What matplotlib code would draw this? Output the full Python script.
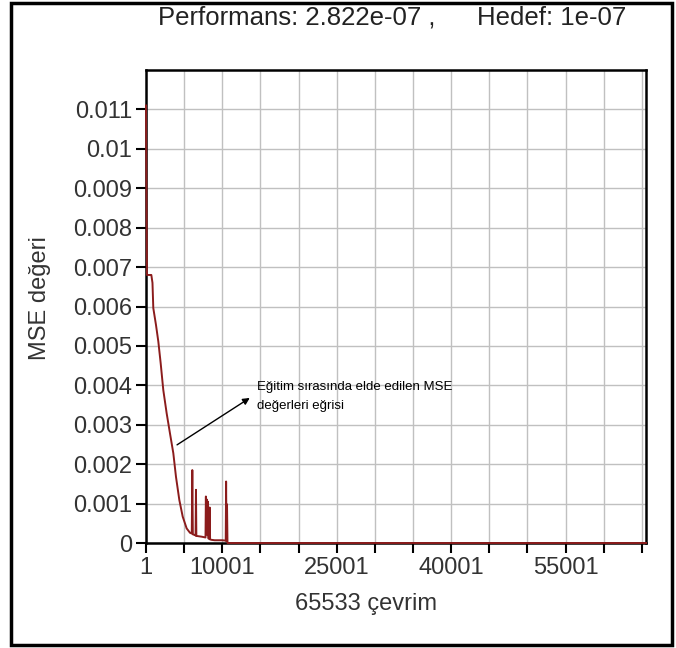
import matplotlib.pyplot as plt
from matplotlib.patches import Rectangle

# Egitim egrisi (MSE)
iterasyon = [1, 120, 700, 850, 957, 1311, 1617, 1925, 2268, 2710, 3145, 3580,
             3930, 4370, 4810, 5330, 5765, 6000, 6070, 6140, 6420, 6500, 6550,
             6600, 7300, 7800, 7850, 7900, 8000, 8050, 8100, 8160, 8300, 8350,
             8400, 8600, 9000, 10000, 10450, 10500, 10550, 10620, 10680, 10740,
             11000, 65533]
mse = [0.0111, 0.0068, 0.0068, 0.0066, 0.00596, 0.00553, 0.00511, 0.00456,
       0.00388, 0.00329, 0.00278, 0.00228, 0.00168, 0.00109, 0.00067, 0.00037,
       0.00026, 0.00024, 0.00185, 0.00022, 0.0002, 0.00019, 0.00135, 0.00018,
       0.00016, 0.00014, 0.00118, 0.0003, 0.0011, 0.0002, 0.00105, 0.00012,
       0.0001, 0.0009, 0.00009, 0.00008, 0.00007, 0.00007, 0.00006, 0.00156,
       0.00005, 0.00098, 0.0, 0.0, 0.0, 0.0]

xtick_vals = [1, 5001, 10001, 15001, 20001, 25001, 30001, 35001, 40001,
              45001, 50001, 55001, 60001, 65001]
xtick_labels = ['1', '', '10001', '', '', '25001', '', '', '40001', '', '',
                '55001', '', '']
ytick_vals = [0, 0.001, 0.002, 0.003, 0.004, 0.005, 0.006, 0.007, 0.008,
              0.009, 0.01, 0.011]

performans = '2.822e-07'
hedef = '1e-07'

plt.rcParams['font.family'] = ['Liberation Sans', 'DejaVu Sans']

fig = plt.figure(figsize=(6.76, 6.48), dpi=100)
ax = fig.add_axes([146 / 676, 105 / 648, 500 / 676, 473 / 648])

ax.plot(iterasyon, mse, color='#8b1c1c', lw=1.4, zorder=3, clip_on=False)

ax.set_xlim(1, 65533)
ax.set_ylim(0, 0.012)
ax.set_xticks(xtick_vals)
ax.set_xticklabels(xtick_labels)
ax.set_yticks(ytick_vals)
ax.set_yticklabels(['%g' % v for v in ytick_vals])
ax.tick_params(direction='out', length=7, width=1.5, labelsize=17, pad=3,
               colors='black')
ax.tick_params(axis='y', labelcolor='#333333')
ax.tick_params(axis='x', labelcolor='#333333')
ax.grid(True, color='#c0c0c0', lw=1)
ax.set_axisbelow(True)
for s in ax.spines.values():
    s.set_linewidth(1.8)
    s.set_color('black')

fig.text(40 / 676, 1 - 298 / 648, 'MSE değeri', rotation=90, fontsize=17,
         ha='center', va='center', color='#333333')
fig.text(366 / 676, 1 - 604 / 648, '65533 çevrim', fontsize=17,
         ha='center', va='center', color='#333333')
fig.text(158 / 676, 1 - 18 / 648, 'Performans: ' + performans + ' ,',
         fontsize=18.5, ha='left', va='center', color='#222222')
fig.text(477 / 676, 1 - 18 / 648, 'Hedef: ' + hedef,
         fontsize=18.5, ha='left', va='center', color='#222222')

# aciklama ve ok
ax.text(14600, 0.00372, 'Eğitim sırasında elde edilen MSE\ndeğerleri eğrisi',
        fontsize=9.5, ha='left', va='center', linespacing=1.75)
ax.annotate('', xy=(13600, 0.00368), xytext=(4070, 0.00249),
            arrowprops=dict(arrowstyle='-|>', color='black', lw=1,
                            mutation_scale=10, shrinkA=0, shrinkB=0))

# cerceve
fig.patches.append(Rectangle((11 / 676, 3 / 648), 661 / 676, 642 / 648,
                             transform=fig.transFigure, fill=False,
                             edgecolor='black', lw=2.5))

fig.savefig('out.png', dpi=100)
